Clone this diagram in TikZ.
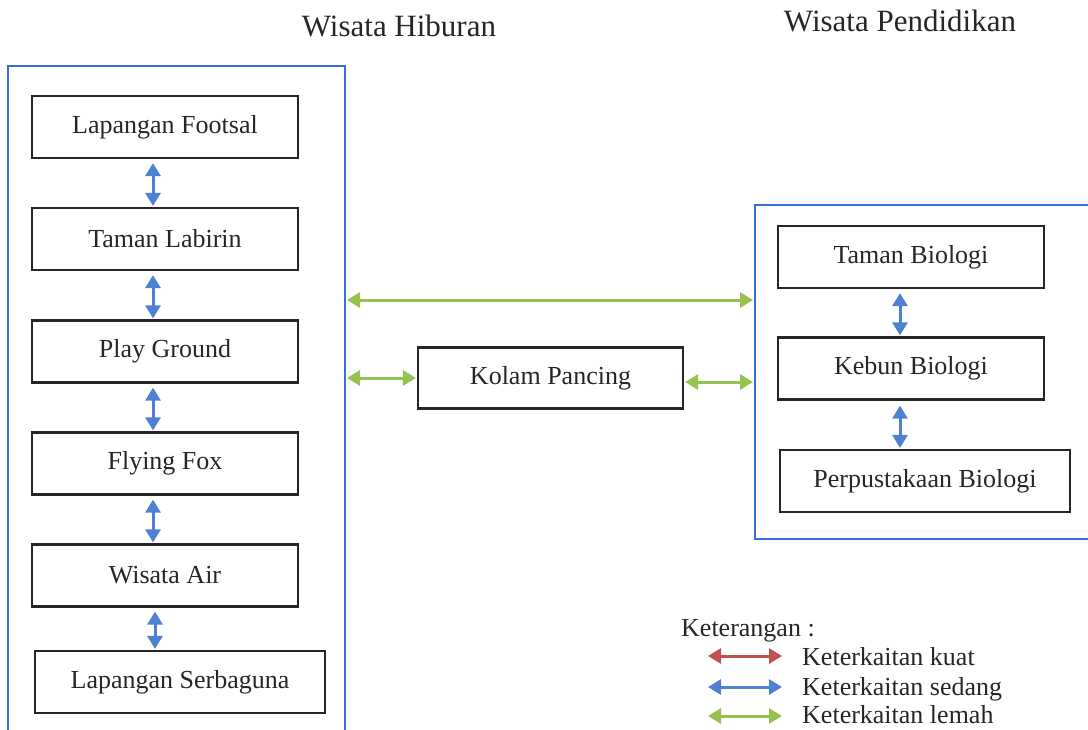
\documentclass[tikz,border=0pt]{standalone}
\usepackage{fontspec}
\setmainfont{Liberation Serif}
\usetikzlibrary{arrows.meta}
\definecolor{frameblue}{RGB}{52,112,214}
\definecolor{linkblue}{RGB}{79,129,210}
\definecolor{linkgreen}{RGB}{150,194,80}
\definecolor{linkred}{RGB}{192,80,77}
\tikzset{
  unit/.style={draw=black!85, line width=2.2pt, minimum width=266pt, minimum height=62pt,
    inner sep=0pt, font=\fontsize{26}{30}\selectfont, text=black!85},
  group/.style={draw=frameblue, line width=2pt, inner sep=0pt},
  link/.style={line width=3pt, {Triangle[length=13pt,width=15pt]}-{Triangle[length=13pt,width=15pt]}},
  medium/.style={link, linkblue},
  weak/.style={link, linkgreen},
  strong/.style={link, linkred},
  heading/.style={font=\fontsize{31}{36}\selectfont, text=black!85, anchor=base},
  legendtext/.style={font=\fontsize{26}{30}\selectfont, text=black!85, anchor=base west, inner sep=0pt}
}
\begin{document}
\begin{tikzpicture}[x=1pt,y=-1pt]
\useasboundingbox (0,0) rectangle (1088,729);
\clip (0,0) rectangle (1088,729);

% headings
\node[heading] (hib) at (399,36) {Wisata Hiburan};
\node[heading] (pen) at (900,31) {Wisata Pendidikan};

% group frames (open at the page edges)
\node[group, minimum width=337pt, minimum height=720pt] (L) at (176.5,426) {};
\node[group, minimum width=360pt, minimum height=334pt] (R) at (935,372) {};

% left column
\node[unit] (a1) at (165,127) {Lapangan Footsal};
\node[unit] (a2) at (165,239) {Taman Labirin};
\node[unit] (a3) at (165,351.5) {Play Ground};
\node[unit] (a4) at (165,463.5) {Flying Fox};
\node[unit] (a5) at (165,575.5) {Wisata Air};
\node[unit, minimum width=290pt] (a6) at (180,682) {Lapangan Serbaguna};

% right column
\node[unit] (b1) at (911,257) {Taman Biologi};
\node[unit] (b2) at (911,368.5) {Kebun Biologi};
\node[unit, minimum width=290pt] (b3) at (925,481) {Perpustakaan Biologi};

% middle
\node[unit, minimum width=265pt, minimum height=61pt] (k) at (550.5,378) {Kolam Pancing};

% vertical links
\foreach \u/\v/\xx in {a1/a2/153, a2/a3/153, a3/a4/153, a4/a5/153, a5/a6/155} {
  \draw[medium, shorten <=4pt, shorten >=1pt] (\xx,0 |- \u.south) -- (\xx,0 |- \v.north);
}
\draw[medium, shorten <=4pt, shorten >=1pt] (900,0 |- b1.south) -- (900,0 |- b2.north);
\draw[medium, shorten <=5pt, shorten >=1pt] (900,0 |- b2.south) -- (900,0 |- b3.north);

% horizontal links
\coordinate (top) at (550,300);
\draw[weak, shorten <=1pt, shorten >=1pt] (top -| L.east) -- (top -| R.west);
\draw[weak, shorten <=1pt, shorten >=1pt] (k.west -| L.east) -- (k.west);
\draw[weak, shorten <=1pt, shorten >=1pt] ([yshift=-4pt]k.east) -- ([yshift=-4pt]k.east -| R.west);

% legend
\node[legendtext] (ket) at (681,636) {Keterangan :};
\coordinate (r1) at (708,656); \coordinate (r2) at (782,656);
\coordinate (s1) at (708,687); \coordinate (s2) at (782,687);
\coordinate (w1) at (708,716); \coordinate (w2) at (782,716);
\draw[strong] (r1) -- (r2);
\draw[medium] (s1) -- (s2);
\draw[weak] (w1) -- (w2);
\node[legendtext] (lk) at (802,665) {Keterkaitan kuat};
\node[legendtext] (ls) at (802,695) {Keterkaitan sedang};
\node[legendtext] (lw) at (802,723) {Keterkaitan lemah};
\end{tikzpicture}
\end{document}
